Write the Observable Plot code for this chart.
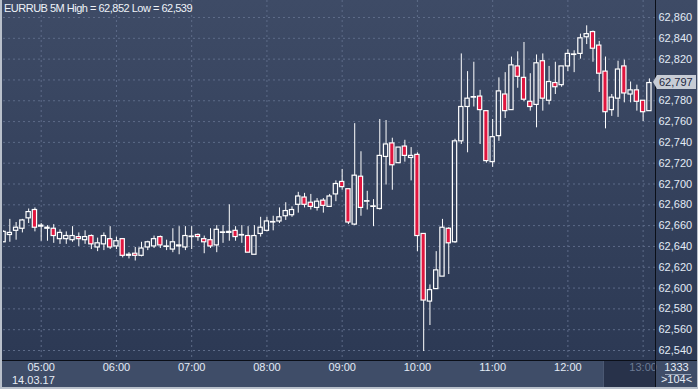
<!DOCTYPE html>
<html><head><meta charset="utf-8">
<script src="https://cdn.jsdelivr.net/npm/d3@7"></script>
<script src="https://cdn.jsdelivr.net/npm/@observablehq/plot@0.6"></script>
<style>
html,body{margin:0;padding:0;background:#2c3954;}
#wrap{position:relative;width:698px;height:389px;overflow:hidden;font-family:"Liberation Sans",Arial,sans-serif;}
.abs{position:absolute;}
#chart{position:absolute;left:0;top:0;}
</style></head><body>
<div id="wrap">
  <div class="abs" style="left:0;top:0;width:698px;height:361px;background:linear-gradient(#3e4b66,#2c3954);"></div>
  <div class="abs" style="left:0;top:361px;width:698px;height:28px;background:#3f4d68;"></div>
  <div class="abs" style="left:603px;top:361px;width:52px;height:26px;background:#28324a;border-left:1px solid #4b5872;"></div>
  <div id="chart"></div>
  <div class="abs" style="left:655px;top:0;width:1px;height:389px;background:#0b0f18;"></div>
  <div class="abs" style="left:0;top:360px;width:698px;height:1px;background:#0b0f18;"></div>
  <div class="abs" style="left:0;top:0;width:2px;height:389px;background:#b9c0cb;"></div>
  <div class="abs" style="left:697px;top:0;width:1px;height:389px;background:#b9c0cb;"></div>
  <div class="abs" style="left:0;top:387px;width:698px;height:2px;background:#b9c0cb;"></div>
  <div id="title" class="abs" style="left:4px;top:2px;color:#eef2f8;font-size:11px;letter-spacing:-0.5px;white-space:nowrap;"></div>
  <div id="date" class="abs" style="left:12px;top:374px;color:#e6ecf5;font-size:11px;"></div>
  <div id="box1" class="abs" style="left:656px;top:361px;width:41px;text-align:center;color:#e6ecf5;font-size:11px;"></div>
  <div class="abs" style="left:665px;top:374px;width:26px;height:1px;background:#9aa5b8;"></div>
  <div id="box2" class="abs" style="left:656px;top:373px;width:41px;text-align:center;color:#e6ecf5;font-size:11px;"></div>
  <div id="tagArrow" class="abs" style="width:0;height:0;border-top:7px solid transparent;border-bottom:7px solid transparent;border-right:4px solid #c7ccd5;"></div>
  <div id="tag" class="abs" style="left:657px;width:39px;height:14px;background:#c7ccd5;color:#1c2740;font-size:11px;line-height:14px;padding-left:2px;box-sizing:border-box;"></div>
</div>
<script>
// ---- data (EURRUB, 5-minute bars, 14.03.17 04:30 .. 13:05) ----
const titleText = "EURRUB 5M High = 62,852 Low = 62,539";
const dateLabel = "14.03.17";
const boxTop = "1333";
const boxBottom = ">104<";
const firstBar = "2017-03-14T04:30Z";
const barMinutes = 5;

const open = [62644,62651,62655,62657,62667,62675,62659,62657,62657,62647,62647,62646,62649,62646,62650,62639,62642,62647,62640,62647,62631,62633,62631,62639,62640,62649,62639.5,62637,62641,62639,62649,62651,62647,62646,62641,62653,62653,62655,62650.5,62650,62632,62652,62655,62663,62664,62669,62670,62680,62687,62682,62677,62684,62678,62690,62702,62695,62661,62707,62683,62678,62676,62726,62739,62720,62736,62725,62728,62652,62587,62599,62611,62657,62644,62741,62774,62783,62784,62770,62721,62746,62786,62771,62813,62802,62779,62776,62818,62780,62797,62795,62813,62824,62825,62841,62846,62833,62808,62771,62782,62813,62786,62790,62780,62770];
const high = [62655,62666,62663,62666,62676,62677,62662,62660,62661,62656,62654,62659,62653,62655,62651,62648,62653,62659,62649,62647,62634,62639,62644,62645,62650,62650,62646,62657,62659,62659,62659,62652,62650,62657,62660,62660,62680,62659,62660,62659,62660,62668,62668,62669,62677,62682,62678,62692,62691,62690,62686,62686,62690,62703,62714,62695,62758,62731,62693,62685,62762,62761,62744,62735,62742,62735,62730,62652,62603,62635,62666,62658,62743,62825,62808,62817,62790,62770,62762,62802,62807,62822,62827,62836,62806,62824,62825,62813,62817,62813,62829,62828,62844,62852,62847,62837,62822,62786,62818,62819,62798,62795,62780,62801];
const low = [62644,62644,62646,62653,62662,62654,62645,62645,62643,62642,62642,62644,62640,62642,62637,62635,62636,62637,62637,62629,62628,62626,62630,62636,62638,62638,62636,62634,62632,62636,62637,62645,62633,62638,62634,62643,62645,62645,62643,62634,62632,62649,62654,62655,62662,62665,62668,62672,62677,62675,62674,62672,62678,62683,62694,62661,62660,62669,62675,62659,62675,62699,62694,62720,62721,62703,62635,62539,62564,62599,62611,62613,62643,62738,62730,62774,62738,62720,62716,62741,62763,62771,62792,62779,62770,62754,62770,62776,62786,62793,62808,62807,62820,62834,62817,62788,62753,62765,62764,62778,62778,62770,62760,62770];
const close = [62654,62653,62658,62665,62673,62658,62660,62658,62650,62653,62650,62650,62647,62649,62642,62643,62650,62639,62645,62631,62632,62631,62638,62644,62647,62641,62640,62644,62640,62650,62649.5,62649,62644,62640,62656,62653.5,62654,62649,62651,62634,62650,62658,62664,62663.5,62668,62674,62675,62688,62680,62678,62683,62679,62688,62700,62697,62663,62708,62677,62683.5,62678.5,62727,62738,62718,62735,62727,62727,62650,62588,62598,62617,62658,62643,62741,62774,62782,62783.5,62771,62722,62745,62789,62770,62814,62803,62781,62774,62816,62782,62798,62793,62813,62825,62824.5,62840,62844,62830,62806,62769,62783,62810,62787,62790,62779,62769,62797];

const yTicks = [62540,62560,62580,62600,62620,62640,62660,62680,62700,62720,62740,62760,62780,62800,62820,62840,62860];
const hourLabels = ["05:00","06:00","07:00","08:00","09:00","10:00","11:00","12:00","13:00"];
const futureHours = ["13:00"];

const RED = "#e0163f";
const t0 = new Date(firstBar).getTime();
const bars = open.map((o, i) => ({t: new Date(t0 + i * barMinutes * 60000), o, h: high[i], l: low[i], c: close[i]}));
const toDate = s => new Date(`2017-03-14T${s}Z`);
const hourDates = hourLabels.map(toDate);
const pastHours = hourLabels.filter(h => !futureHours.includes(h)).map(toDate);
const lateHours = futureHours.map(toDate);
const half = 1.7 * 60000;
const bodyX1 = d => new Date(+d.t - half), bodyX2 = d => new Date(+d.t + half);

const plot = Plot.plot({
  width: 698, height: 389,
  marginLeft: 3, marginRight: 43, marginTop: 0, marginBottom: 29,
  style: {background: "transparent", color: "#e3ebf6", fontSize: "11px", fontFamily: "Liberation Sans, Arial, sans-serif", overflow: "visible"},
  x: {type: "utc", domain: [bars[0].t, bars[bars.length - 1].t], range: [3.08, 648.9]},
  y: {domain: [62540, 62860], range: [350, 17]},
  marks: [
    Plot.gridY(yTicks, {stroke: "#5d6b88", strokeOpacity: 1, strokeDasharray: "2,3"}),
    Plot.gridX(hourDates, {stroke: "#5d6b88", strokeOpacity: 1, strokeDasharray: "2,3"}),
    Plot.ruleX(bars, {x: "t", y1: "h", y2: d => Math.max(d.o, d.c), stroke: "#ffffff", clip: true}),
    Plot.ruleX(bars, {x: "t", y1: d => Math.min(d.o, d.c), y2: "l", stroke: "#ffffff", clip: true}),
    Plot.rect(bars, {filter: d => d.c >= d.o, x1: bodyX1, x2: bodyX2, y1: "o", y2: "c", fill: "none", stroke: "#ffffff", strokeWidth: 1.2, clip: true}),
    Plot.rect(bars, {filter: d => d.c < d.o, x1: bodyX1, x2: bodyX2, y1: "o", y2: "c", fill: RED, stroke: "#ffffff", strokeWidth: 1.2, clip: true}),
    Plot.axisY(yTicks, {anchor: "right", tickSize: 0, tickPadding: 3, tickFormat: d3.format(","), label: null, fill: "#e3ebf6"}),
    Plot.axisX(pastHours, {anchor: "bottom", tickSize: 0, tickPadding: 3, tickFormat: d3.utcFormat("%H:%M"), label: null, fill: "#e3ebf6"}),
    Plot.axisX(lateHours, {anchor: "bottom", tickSize: 0, tickPadding: 3, tickFormat: d3.utcFormat("%H:%M"), label: null, fill: "#6c7a94"})
  ]
});
document.getElementById("chart").appendChild(plot);

document.getElementById("title").textContent = titleText;
document.getElementById("date").textContent = dateLabel;
document.getElementById("box1").textContent = boxTop;
document.getElementById("box2").textContent = boxBottom;
const last = bars[bars.length - 1].c;
const yLast = plot.scale("y").apply(last);
const tag = document.getElementById("tag");
tag.textContent = d3.format(",")(Math.floor(last));
tag.style.top = (yLast - 7.5) + "px";
const arrow = document.getElementById("tagArrow");
arrow.style.left = "653px";
arrow.style.top = (yLast - 7.5) + "px";
</script>
</body></html>
